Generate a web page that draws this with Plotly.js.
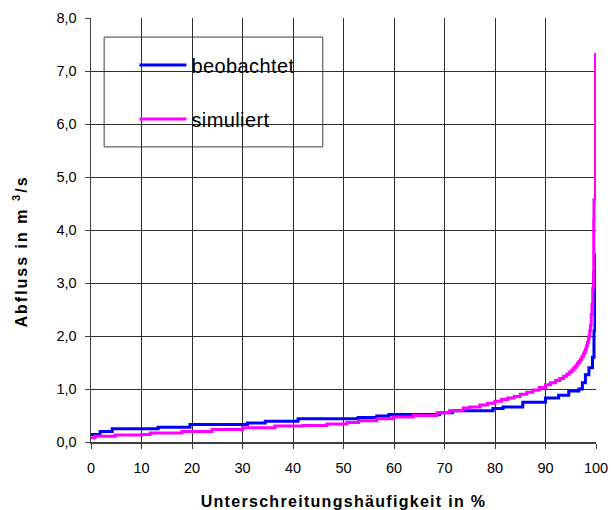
<!DOCTYPE html>
<html>
<head>
<meta charset="utf-8">
<script src="https://cdn.plot.ly/plotly-3.0.1.min.js"></script>
<style>
html,body{margin:0;padding:0;background:#fff;}
#chart{width:611px;height:510px;}
.g-xtitle text {letter-spacing: 1.3px;}
.annotation-text {letter-spacing: 2px;}
.legendtext {letter-spacing: 0.4px;}
</style>
</head>
<body>
<div id="chart"></div>
<script>
// Unterschreitungshäufigkeit (%) und Abfluss (m³/s)
var obsX = [0, 1.8, 4.2, 13.3, 19.6, 31, 34.5, 41, 52.9, 56.6, 59, 69, 71.6, 79.6, 81.6, 85.5, 90, 92.6, 94.6, 96.6, 97.3, 97.9, 98.6, 99.3, 99.6, 99.8, 99.9, 100];
var obsY = [0.14, 0.2, 0.25, 0.28, 0.33, 0.36, 0.39, 0.44, 0.46, 0.49, 0.52, 0.55, 0.59, 0.63, 0.66, 0.75, 0.83, 0.88, 0.96, 1.0, 1.12, 1.27, 1.4, 1.6, 2.1, 2.7, 3.2, 3.55];
var simX = [0, 0.8, 4.8, 10, 11.7, 18, 24, 30, 36.4, 42, 46.7, 50.7, 53, 56.6, 59.8, 63.8, 68.5, 71, 73.7, 75, 77, 78.5, 80, 81.3, 82.5, 83.8, 85, 86.3, 87.5, 88.8, 90, 91, 92, 92.8, 93.6, 94.2, 94.7, 95.2, 95.6, 96, 96.3, 96.6, 96.9, 97.2, 97.5, 97.7, 97.9, 98.1, 98.3, 98.5, 98.6, 98.75, 98.9, 99.05, 99.2, 99.35, 99.5, 99.55, 99.6, 99.9, 99.9];
var simY = [0.08, 0.11, 0.13, 0.14, 0.17, 0.2, 0.235, 0.27, 0.3, 0.31, 0.34, 0.37, 0.4, 0.44, 0.47, 0.5, 0.55, 0.59, 0.64, 0.66, 0.7, 0.73, 0.77, 0.8, 0.83, 0.86, 0.9, 0.94, 0.98, 1.03, 1.08, 1.12, 1.16, 1.2, 1.24, 1.28, 1.32, 1.36, 1.4, 1.44, 1.48, 1.52, 1.56, 1.61, 1.66, 1.7, 1.75, 1.81, 1.88, 1.94, 2.0, 2.1, 2.2, 2.4, 2.6, 2.9, 3.2, 4.2, 4.57, 4.83, 7.34];
var seriesNames = ['beobachtet', 'simuliert'];
var xTicks = [0, 10, 20, 30, 40, 50, 60, 70, 80, 90, 100];
var yTicks = [0, 1, 2, 3, 4, 5, 6, 7, 8];
var xTitle = 'Unterschreitungshäufigkeit in %';
var yTitle = 'Abfluss in m <sup>3</sup>/s';

var traces = [
  {x: obsX, y: obsY, name: seriesNames[0], legendgroup: 'a', mode: 'lines',
   line: {color: '#0000FF', width: 3, shape: 'hv'}},
  {x: simX, y: simY, name: seriesNames[1], legendgroup: 'b', mode: 'lines',
   line: {color: '#FF00FF', width: 3, shape: 'hv'}}
];

var fontFam = '"Liberation Sans", Arial, sans-serif';
var layout = {
  width: 611, height: 510,
  margin: {l: 91, r: 15, t: 18, b: 68},
  paper_bgcolor: '#fff', plot_bgcolor: '#fff',
  separators: ',.',
  font: {family: fontFam, size: 14, color: '#000'},
  showlegend: true,
  legend: {x: 0.086, y: 0.935, xanchor: 'left', yanchor: 'top',
           bgcolor: 'rgba(0,0,0,0)', borderwidth: 0, itemwidth: 47,
           font: {family: fontFam, size: 20, color: '#000'},
           tracegroupgap: 25, traceorder: 'grouped'},
  xaxis: {range: [0, 100], tickvals: xTicks, ticks: 'outside', ticklen: 5, tickcolor: '#404040',
          ticklabelstandoff: 7,
          showgrid: true, gridcolor: '#303030', gridwidth: 1, zeroline: false,
          showline: true, linecolor: '#404040', linewidth: 1.5,
          tickfont: {size: 14.5}, fixedrange: true,
          title: {text: '<b>' + xTitle + '</b>', font: {size: 16}, standoff: 27}},
  yaxis: {range: [0, 8], tickvals: yTicks, tickformat: '.1f', ticks: 'outside', ticklen: 5, tickcolor: '#404040',
          ticklabelstandoff: 5,
          showgrid: true, gridcolor: '#303030', gridwidth: 1, zeroline: false,
          showline: true, linecolor: '#404040', linewidth: 1.5,
          tickfont: {size: 14.5}, fixedrange: true},
  annotations: [{text: '<b>' + yTitle + '</b>', xref: 'paper', yref: 'paper',
                 x: -0.14, y: 0.45, xanchor: 'center', yanchor: 'middle', textangle: -90,
                 showarrow: false, font: {family: fontFam, size: 16, color: '#000'}}],
  shapes: [{type: 'rect', xref: 'paper', yref: 'paper', layer: 'between',
            x0: 0.026, x1: 0.459, y0: 0.696, y1: 0.955,
            fillcolor: '#fff', line: {color: '#404040', width: 1}}]
};

Plotly.newPlot('chart', traces, layout, {displayModeBar: false, staticPlot: true});
</script>
</body>
</html>
